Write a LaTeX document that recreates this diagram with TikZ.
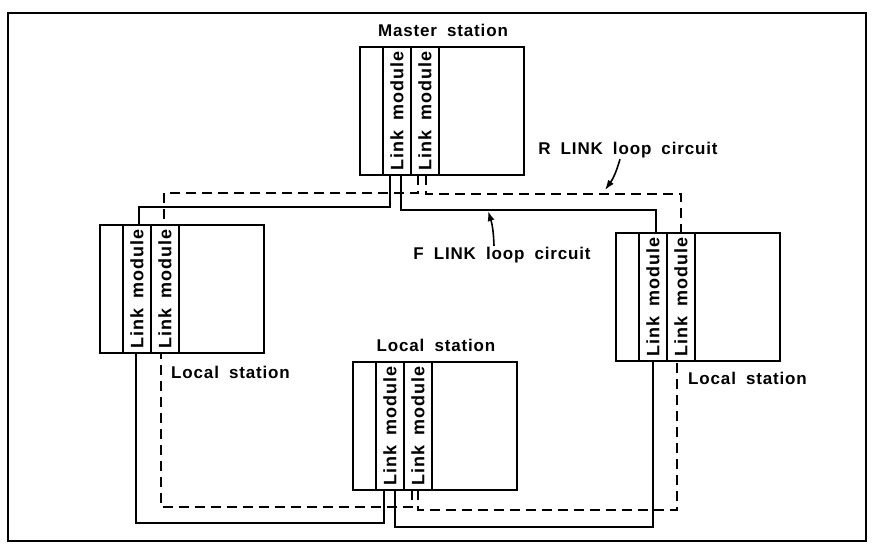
\documentclass[tikz,border=0pt]{standalone}
\usepackage{fontspec}
\setmainfont{Liberation Sans}[LetterSpace=5,WordSpace=1.8]
\usetikzlibrary{positioning,arrows.meta}

% one station: blank slot, two link modules, rest of the rack
\newcommand{\station}[2]{%
  \node[slot, anchor=north west] (#1-0) at (#2) {};
  \node[module, right=0pt of #1-0] (#1-1) {\rotatebox{90}{Link module}};
  \node[module, right=0pt of #1-1] (#1-2) {\rotatebox{90}{Link module}};
  \node[rest, right=0pt of #1-2] (#1-3) {};
}

\begin{document}
\begin{tikzpicture}[x=1pt, y=-1pt,
    slot/.style={draw, line width=1.7pt, minimum width=23pt, minimum height=128pt,
      inner sep=0pt, outer sep=0pt, font=\fontsize{18}{20}\selectfont\bfseries},
    module/.style={slot, minimum width=28pt},
    rest/.style={slot, minimum width=85pt},
    lab/.style={font=\fontsize{17}{20}\selectfont\bfseries, inner sep=1pt},
    fline/.style={line width=1.7pt},
    rline/.style={line width=1.7pt, dash pattern=on 10pt off 6pt},
    pointer/.style={line width=1.6pt, -{Latex[length=10pt,width=7pt]}}]
    \useasboundingbox (0,0) rectangle (875,549);
    \draw[line width=1.7pt] (8,13) rectangle (866,541);

    % stations
    \station{ms}{360,47}
    \station{ls}{100,225}
    \station{rs}{616,233}
    \station{bs}{353,362}

    \node[lab] (msl) at (443,30) {Master station};
    \node[lab, anchor=west] (lsl) at (170,372) {Local station};
    \node[lab] (bsl) at (436,345) {Local station};
    \node[lab, anchor=west] (rsl) at (687,378) {Local station};

    % F LINK loop (solid)
    \draw[fline] ([xshift=7pt]ms-1.south west) -- ++(0,32) -| ([xshift=16pt]ls-1.north west);
    \draw[fline] ([xshift=18pt]ms-1.south west) -- ++(0,35) -| ([xshift=17pt]rs-1.north west);
    \draw[fline] ([xshift=8pt]bs-1.south west) -- ++(0,33) -| ([xshift=13pt]ls-1.south west);
    \draw[fline] ([xshift=19pt]bs-1.south west) -- ++(0,37) -| ([xshift=14pt]rs-1.south west);

    % R LINK loop (dashed)
    \draw[rline] ([xshift=7pt]ms-2.south west) -- ++(0,18) -| ([xshift=13pt]ls-2.north west);
    \draw[rline] ([xshift=15pt]ms-2.south west) -- ++(0,19) -| ([xshift=14pt]rs-2.north west);
    \draw[rline] ([xshift=8pt]bs-2.south west) -- ++(0,17) -| ([xshift=10pt]ls-2.south west);
    \draw[rline] ([xshift=14pt]bs-2.south west) -- ++(0,20) -| ([xshift=10pt]rs-2.south west);

    % loop labels
    \node[lab] (rlab) at (628,150) {R LINK loop circuit};
    \node[lab] (flab) at (502,255) {F LINK loop circuit};
    \coordinate (rtip) at (605,190);
    \coordinate (ftip) at (488,211);
    \draw[pointer] ([xshift=-8pt]rlab.south) to[bend left=10] (rtip);
    \draw[pointer] ([xshift=-8pt]flab.north) to[bend right=8] (ftip);
\end{tikzpicture}
\end{document}
